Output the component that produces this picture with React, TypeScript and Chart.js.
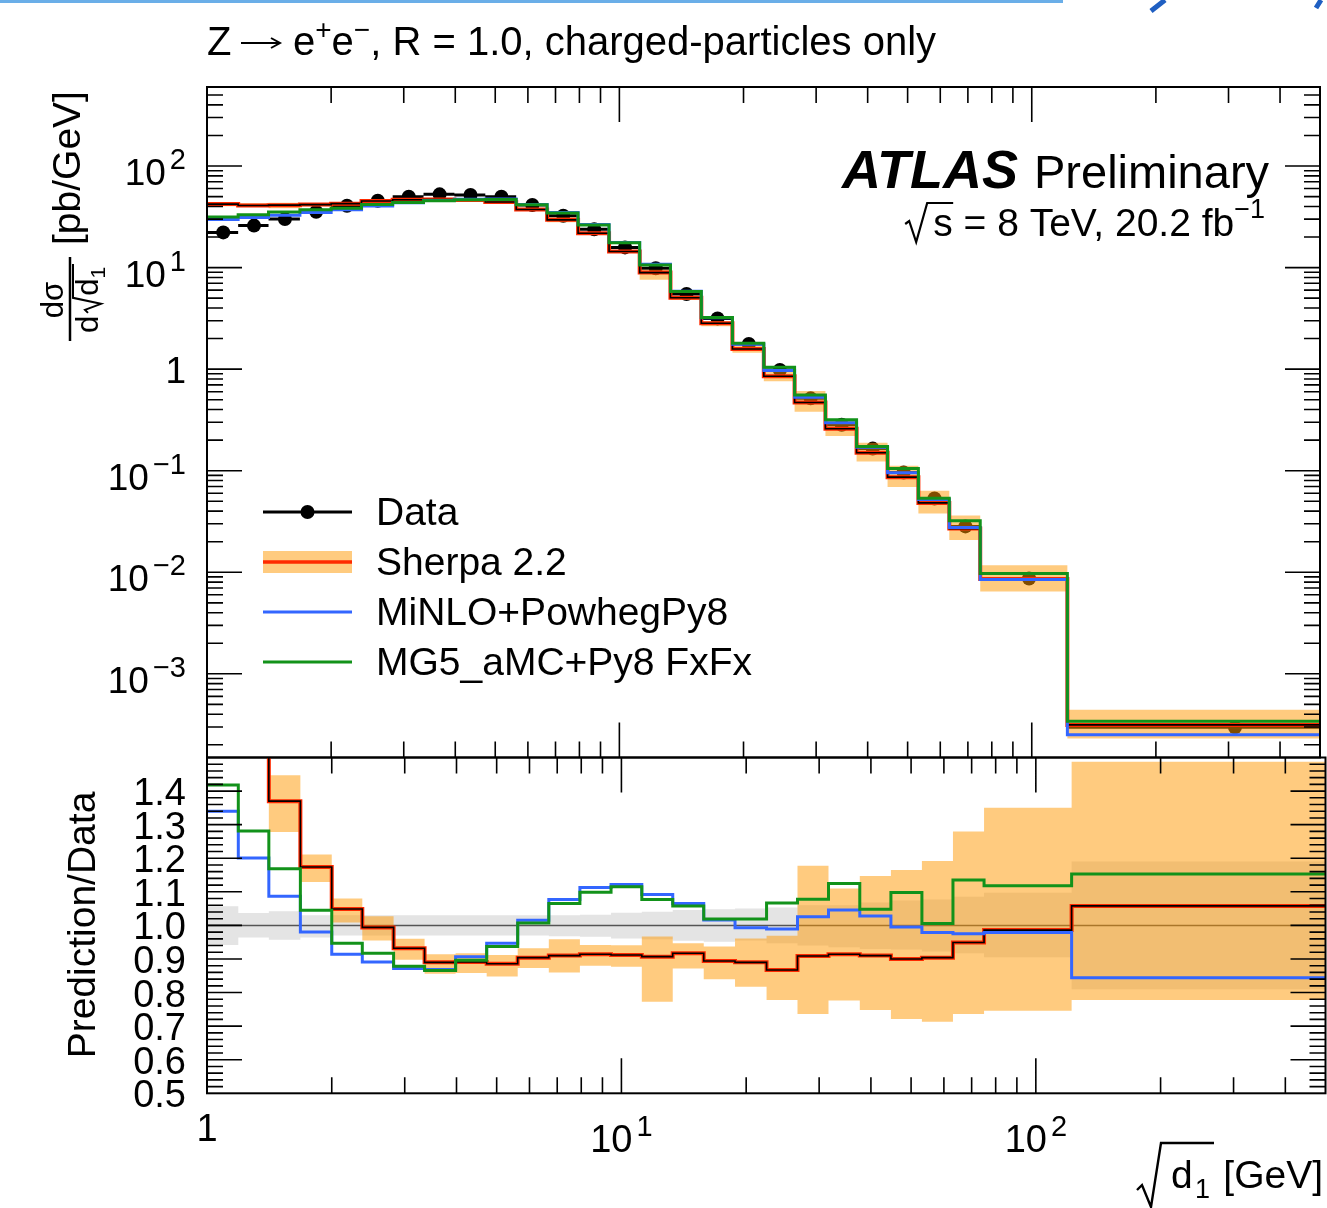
import React, { useEffect, useRef } from "react";
import { Chart, registerables } from "chart.js";

Chart.register(...registerables);

const W = 1327;
const H = 1208;
const FONT = '"Liberation Sans", Arial, Helvetica, sans-serif';

// ---- data ----
const binEdges = [1, 1.19, 1.41, 1.68, 2.0, 2.37, 2.82, 3.35, 3.98, 4.73, 5.62, 6.68, 7.94, 9.44, 11.2, 13.3, 15.8, 18.8, 22.4, 26.6, 31.6, 37.6, 44.7, 53.1, 63.1, 75.0, 122, 500];

const dataValues = [22.2, 25.9, 30.1, 35.5, 40.6, 45.5, 49.9, 52.6, 51.9, 49.9, 41.3, 32.4, 23.8, 15.8, 9.85, 5.5, 3.16, 1.77, 0.98, 0.516, 0.283, 0.165, 0.096, 0.0533, 0.0283, 0.00869, 0.000297];
const sherpaValues = [42.2, 40.9, 41.2, 41.7, 42.6, 45.2, 46.5, 46.8, 46.2, 44.2, 37.3, 29.5, 21.8, 14.4, 8.93, 5.04, 2.83, 1.58, 0.85, 0.469, 0.259, 0.15, 0.0864, 0.0482, 0.0269, 0.00857, 0.000314];
const sherpaBandHigh = [44.2, 43.0, 43.6, 43.0, 43.8, 46.7, 47.9, 48.1, 47.6, 45.5, 38.5, 31.1, 22.4, 14.9, 9.52, 5.21, 2.96, 1.7, 0.95, 0.608, 0.314, 0.189, 0.112, 0.0635, 0.0362, 0.01173, 0.000442];
const sherpaBandLow = [40.2, 39.4, 38.5, 40.1, 41.0, 43.5, 44.8, 45.0, 44.5, 42.3, 36.1, 27.9, 20.9, 13.9, 7.61, 4.8, 2.65, 1.45, 0.762, 0.38, 0.22, 0.123, 0.0692, 0.038, 0.0208, 0.00648, 0.000231];
const minloValues = [29.7, 31.1, 32.7, 34.8, 37.1, 40.5, 43.5, 45.7, 47.1, 47.3, 41.9, 34.9, 26.5, 17.7, 10.76, 5.86, 3.21, 1.76, 0.969, 0.529, 0.296, 0.17, 0.0955, 0.0522, 0.0276, 0.00851, 0.000251];
const mg5Values = [31.5, 33.2, 35.2, 37.1, 38.4, 41.7, 43.8, 45.6, 46.5, 46.8, 41.6, 34.5, 26.2, 17.6, 10.61, 5.82, 3.22, 1.8, 1.046, 0.556, 0.318, 0.173, 0.1054, 0.0536, 0.0321, 0.00972, 0.000342];

const ratioData = [1, 1, 1, 1, 1, 1, 1, 1, 1, 1, 1, 1, 1, 1, 1, 1, 1, 1, 1, 1, 1, 1, 1, 1, 1, 1, 1];
const ratioDataHigh = [1.057, 1.037, 1.042, 1.03, 1.03, 1.03, 1.03, 1.03, 1.03, 1.03, 1.03, 1.03, 1.032, 1.038, 1.041, 1.046, 1.048, 1.05, 1.053, 1.06, 1.06, 1.068, 1.074, 1.077, 1.085, 1.097, 1.19];
const ratioDataLow = [0.942, 0.964, 0.957, 0.964, 0.97, 0.97, 0.97, 0.97, 0.97, 0.97, 0.97, 0.968, 0.966, 0.961, 0.959, 0.954, 0.951, 0.955, 0.947, 0.94, 0.935, 0.93, 0.928, 0.922, 0.917, 0.905, 0.81];
const ratioSherpa = [1.9, 1.58, 1.37, 1.174, 1.049, 0.994, 0.932, 0.89, 0.891, 0.886, 0.904, 0.91, 0.914, 0.912, 0.907, 0.917, 0.894, 0.89, 0.867, 0.909, 0.914, 0.91, 0.9, 0.904, 0.949, 0.986, 1.058];
const ratioSherpaHigh = [1.99, 1.66, 1.447, 1.211, 1.08, 1.027, 0.96, 0.914, 0.917, 0.912, 0.932, 0.959, 0.942, 0.941, 0.967, 0.947, 0.937, 0.961, 0.969, 1.178, 1.11, 1.147, 1.165, 1.192, 1.28, 1.35, 1.487];
const ratioSherpaLow = [1.81, 1.52, 1.278, 1.129, 1.009, 0.955, 0.898, 0.856, 0.858, 0.848, 0.873, 0.86, 0.88, 0.877, 0.773, 0.872, 0.84, 0.817, 0.778, 0.736, 0.776, 0.748, 0.721, 0.713, 0.736, 0.746, 0.778];
const ratioMinlo = [1.34, 1.201, 1.087, 0.98, 0.914, 0.891, 0.872, 0.869, 0.907, 0.947, 1.015, 1.077, 1.113, 1.122, 1.092, 1.065, 1.016, 0.993, 0.989, 1.026, 1.046, 1.028, 0.995, 0.979, 0.975, 0.979, 0.844];
const ratioMg5 = [1.418, 1.281, 1.169, 1.045, 0.947, 0.917, 0.878, 0.866, 0.896, 0.937, 1.007, 1.065, 1.099, 1.115, 1.077, 1.058, 1.019, 1.019, 1.067, 1.078, 1.125, 1.048, 1.098, 1.006, 1.135, 1.118, 1.153];

// ---- ticks / labels ----
const xMajorTicks = [1, 10, 100];
const xMinorTicks = [2, 3, 4, 5, 6, 7, 8, 9, 20, 30, 40, 50, 60, 70, 80, 90, 200, 300, 400, 500];
const xTickValues = [1, 10, 100];
const xTickBases = ["1", "10", "10"];
const xTickExps = ["", "1", "2"];
const yTopMajorTicks = [0.001, 0.01, 0.1, 1, 10, 100];
const yTopTickBases = ["10", "10", "10", "1", "10", "10"];
const yTopTickExps = ["\u22123", "\u22122", "\u22121", "", "1", "2"];
const ratioTickValues = [0.5, 0.6, 0.7, 0.8, 0.9, 1.0, 1.1, 1.2, 1.3, 1.4];
const ratioTickLabels = ["0.5", "0.6", "0.7", "0.8", "0.9", "1.0", "1.1", "1.2", "1.3", "1.4"];
const legendLabels = ["Data", "Sherpa 2.2", "MiNLO+PowhegPy8", "MG5_aMC+Py8 FxFx"];

const TOP_Y_MIN = 1.5e-4;
const TOP_Y_MAX = 600;
const X_MIN = 1;
const X_MAX = 500;

const C_ORANGE = "rgba(255,152,0,0.5)";
const C_RED = "#ff2a00";
const C_BLUE = "#3366ff";
const C_GREEN = "#12921a";
const C_GREY = "#e4e4e4";

const fnt = (px: number, weight = "normal", style = "normal") => `${style} ${weight} ${px}px ${FONT}`;

function step(vals: number[]) {
  const pts = vals.map((v, i) => ({ x: binEdges[i], y: v }));
  pts.push({ x: binEdges[binEdges.length - 1], y: vals[vals.length - 1] });
  return pts;
}

function lineDs(label: string, vals: number[], color: string, width: number, order: number, extra: any = {}) {
  return {
    label,
    data: step(vals),
    borderColor: color,
    backgroundColor: color,
    borderWidth: width,
    pointRadius: 0,
    pointHoverRadius: 0,
    stepped: true,
    tension: 0,
    fill: false,
    order,
    borderJoinStyle: "miter",
    borderCapStyle: "butt",
    ...extra,
  };
}

function bandDs(low: number[], high: number[], color: string, order: number) {
  return [
    lineDs("low", low, "rgba(0,0,0,0)", 0.001, order),
    lineDs("high", high, "rgba(0,0,0,0)", 0.001, order, { fill: "-1", backgroundColor: color }),
  ];
}

function drawAxes(chart: any, yMajor: number[], yMinor: number[]) {
  const { ctx, chartArea: a } = chart;
  const xs = chart.scales.x;
  const ys = chart.scales.y;
  ctx.save();
  ctx.strokeStyle = "#000";
  ctx.lineWidth = 1.6;
  ctx.beginPath();
  const addX = (v: number, len: number) => {
    const p = xs.getPixelForValue(v);
    if (p <= a.left + 1 || p >= a.right - 1) return;
    ctx.moveTo(p, a.bottom);
    ctx.lineTo(p, a.bottom - len);
    ctx.moveTo(p, a.top);
    ctx.lineTo(p, a.top + len);
  };
  xMajorTicks.forEach((v) => addX(v, 35));
  xMinorTicks.forEach((v) => addX(v, 16));
  const addY = (v: number, len: number) => {
    const p = ys.getPixelForValue(v);
    if (p <= a.top + 1 || p >= a.bottom - 1) return;
    ctx.moveTo(a.left, p);
    ctx.lineTo(a.left + len, p);
    ctx.moveTo(a.right, p);
    ctx.lineTo(a.right - len, p);
  };
  yMajor.forEach((v) => addY(v, 35));
  yMinor.forEach((v) => addY(v, 16));
  ctx.stroke();
  ctx.lineWidth = 2;
  ctx.strokeRect(a.left, a.top, a.right - a.left, a.bottom - a.top);
  ctx.restore();
}

function powLabel(ctx: any, base: string, exp: string, x: number, y: number, align: string, bs: number, es: number, rise: number, baseDrop: number) {
  ctx.textAlign = "left";
  ctx.textBaseline = "alphabetic";
  ctx.font = fnt(bs);
  const wb = ctx.measureText(base).width;
  let we = 0;
  if (exp) {
    ctx.font = fnt(es);
    we = ctx.measureText(exp).width;
  }
  const gap = exp ? 4 : 0;
  const total = wb + gap + we;
  const x0 = align === "right" ? x - total : x - total / 2;
  ctx.font = fnt(bs);
  ctx.fillText(base, x0, y + (exp ? baseDrop : 0));
  if (exp) {
    ctx.font = fnt(es);
    ctx.fillText(exp, x0 + wb + gap, y + baseDrop - rise);
  }
}

type Piece = { t: string; s: number; dy: number; w?: string; st?: string };

function drawRich(ctx: any, pieces: Piece[], x: number, y: number) {
  let cx = x;
  ctx.textAlign = "left";
  ctx.textBaseline = "alphabetic";
  for (const p of pieces) {
    ctx.font = fnt(p.s, p.w || "normal", p.st || "normal");
    ctx.fillText(p.t, cx, y + p.dy);
    cx += ctx.measureText(p.t).width;
  }
  return cx;
}

function richWidth(ctx: any, pieces: Piece[]) {
  let w = 0;
  for (const p of pieces) {
    ctx.font = fnt(p.s, p.w || "normal", p.st || "normal");
    w += ctx.measureText(p.t).width;
  }
  return w;
}

const topPlugin = {
  id: "topDecor",
  afterDraw(chart: any) {
    const ctx = chart.ctx;
    const ys = chart.scales.y;
    const yMinor: number[] = [];
    for (let e = -4; e <= 2; e++) {
      for (let m = 2; m <= 9; m++) {
        const v = m * Math.pow(10, e);
        if (v > TOP_Y_MIN && v < TOP_Y_MAX) yMinor.push(v);
      }
    }
    drawAxes(chart, yTopMajorTicks, yMinor);

    ctx.save();
    ctx.fillStyle = "#000";
    // y tick labels
    yTopMajorTicks.forEach((v, i) => {
      const p = ys.getPixelForValue(v);
      if (yTopTickExps[i]) powLabel(ctx, yTopTickBases[i], yTopTickExps[i], 186, p, "right", 37, 29, 16, 19);
      else powLabel(ctx, yTopTickBases[i], "", 186, p + 14, "right", 37, 29, 0, 0);
    });

    // header line (slide decoration)
    ctx.strokeStyle = "#6aaee8";
    ctx.lineWidth = 3;
    ctx.beginPath();
    ctx.moveTo(0, 1.5);
    ctx.lineTo(1063, 1.5);
    ctx.stroke();
    ctx.strokeStyle = "#1f5fc2";
    ctx.lineWidth = 5;
    ctx.beginPath();
    ctx.moveTo(1165, 0);
    ctx.lineTo(1151, 11);
    ctx.moveTo(1321, 0);
    ctx.lineTo(1316, 8);
    ctx.stroke();

    // title
    ctx.font = fnt(40);
    ctx.textAlign = "left";
    ctx.fillText("Z", 207, 55);
    // arrow symbol
    ctx.strokeStyle = "#000";
    ctx.lineWidth = 2;
    ctx.beginPath();
    ctx.moveTo(241, 43);
    ctx.lineTo(279, 43);
    ctx.moveTo(271, 38);
    ctx.lineTo(280, 43);
    ctx.lineTo(271, 48);
    ctx.stroke();
    drawRich(
      ctx,
      [
        { t: "e", s: 40, dy: 0 },
        { t: "+", s: 28, dy: -16 },
        { t: "e", s: 40, dy: 0 },
        { t: "\u2212", s: 28, dy: -16 },
        { t: ", R = 1.0, charged-particles only", s: 40, dy: 0 },
      ],
      293,
      55
    );

    // ATLAS label
    ctx.font = fnt(54, "bold", "italic");
    ctx.textAlign = "left";
    ctx.fillText("ATLAS", 842, 188);
    ctx.font = fnt(47);
    ctx.fillText("Preliminary", 1034, 188);
    const sPieces: Piece[] = [
      { t: "s = 8 TeV, 20.2 fb", s: 39, dy: 0 },
      { t: "\u22121", s: 27, dy: -18 },
    ];
    const sw = richWidth(ctx, sPieces);
    const sx = 1265 - sw;
    const sb = 236;
    drawRich(ctx, sPieces, sx, sb);
    ctx.strokeStyle = "#000";
    ctx.lineWidth = 2.2;
    ctx.beginPath();
    ctx.moveTo(sx - 28, sb - 12);
    ctx.lineTo(sx - 24, sb - 15);
    ctx.lineTo(sx - 17, sb + 6);
    ctx.lineTo(sx - 6, sb - 33);
    ctx.lineTo(sx + 20, sb - 33);
    ctx.stroke();

    // legend
    const lx0 = 263, lx1 = 352, tx = 376;
    const ly = [512, 562, 612, 662];
    ctx.strokeStyle = "#000";
    ctx.lineWidth = 3;
    ctx.beginPath();
    ctx.moveTo(lx0, ly[0]);
    ctx.lineTo(lx1, ly[0]);
    ctx.stroke();
    ctx.beginPath();
    ctx.arc((lx0 + lx1) / 2, ly[0], 7, 0, Math.PI * 2);
    ctx.fill();
    ctx.fillStyle = C_ORANGE;
    ctx.fillRect(lx0, ly[1] - 11, lx1 - lx0, 22);
    ctx.strokeStyle = C_RED;
    ctx.lineWidth = 3.5;
    ctx.beginPath();
    ctx.moveTo(lx0, ly[1]);
    ctx.lineTo(lx1, ly[1]);
    ctx.stroke();
    ctx.strokeStyle = C_BLUE;
    ctx.lineWidth = 3;
    ctx.beginPath();
    ctx.moveTo(lx0, ly[2]);
    ctx.lineTo(lx1, ly[2]);
    ctx.stroke();
    ctx.strokeStyle = C_GREEN;
    ctx.beginPath();
    ctx.moveTo(lx0, ly[3]);
    ctx.lineTo(lx1, ly[3]);
    ctx.stroke();
    ctx.fillStyle = "#000";
    ctx.font = fnt(39);
    legendLabels.forEach((l, i) => ctx.fillText(l, tx, ly[i] + 13));

    // y title (rotated)
    ctx.save();
    ctx.rotate(-Math.PI / 2);
    ctx.textAlign = "left";
    ctx.font = fnt(39);
    ctx.fillText("[pb/GeV]", -245, 80);
    // fraction
    ctx.font = fnt(31);
    ctx.textAlign = "center";
    ctx.fillText("d\u03c3", -300, 63);
    ctx.strokeStyle = "#000";
    ctx.lineWidth = 2.5;
    ctx.beginPath();
    ctx.moveTo(-341, 70);
    ctx.lineTo(-257, 70);
    ctx.stroke();
    ctx.textAlign = "left";
    ctx.font = fnt(31);
    const wd = ctx.measureText("d").width;
    ctx.font = fnt(21);
    const w1 = ctx.measureText("1").width;
    const radW = 17;
    const totalDen = wd + 3 + radW + wd + w1 + 2;
    let u = -299 - totalDen / 2;
    const vb = 98;
    ctx.font = fnt(31);
    ctx.fillText("d", u, vb);
    u += wd + 3;
    ctx.lineWidth = 2;
    ctx.beginPath();
    ctx.moveTo(u, vb - 10);
    ctx.lineTo(u + 3, vb - 13);
    ctx.lineTo(u + 9, vb + 3);
    ctx.lineTo(u + 15, vb - 25);
    ctx.lineTo(u + radW + wd + w1 + 3, vb - 25);
    ctx.stroke();
    u += radW;
    ctx.fillText("d", u, vb);
    u += wd;
    ctx.font = fnt(21);
    ctx.fillText("1", u, vb + 7);
    ctx.restore();

    ctx.restore();
  },
};

const bottomPlugin = {
  id: "bottomDecor",
  afterDraw(chart: any) {
    const ctx = chart.ctx;
    const xs = chart.scales.x;
    const ys = chart.scales.y;
    const yMajor: number[] = [];
    const yMinor: number[] = [];
    for (let i = 0; i <= 50; i++) {
      const v = Math.round((0.5 + i * 0.02) * 1000) / 1000;
      if (i % 5 === 0) yMajor.push(v);
      else yMinor.push(v);
    }
    drawAxes(chart, yMajor, yMinor);

    ctx.save();
    ctx.fillStyle = "#000";
    ctx.font = fnt(38);
    ctx.textAlign = "right";
    ctx.textBaseline = "alphabetic";
    ratioTickValues.forEach((v, i) => {
      const p = ys.getPixelForValue(v);
      ctx.fillText(ratioTickLabels[i], 186, p + 14);
    });

    // x tick labels
    xTickValues.forEach((v, i) => {
      const p = xs.getPixelForValue(v);
      if (xTickExps[i]) powLabel(ctx, xTickBases[i], xTickExps[i], p, 1152, "center", 38, 29, 16, 0);
      else powLabel(ctx, xTickBases[i], "", p, 1141, "center", 38, 29, 0, 0);
    });

    // x title
    ctx.font = fnt(39);
    ctx.textAlign = "right";
    ctx.fillText("[GeV]", 1323, 1188);
    ctx.textAlign = "left";
    ctx.fillText("d", 1171, 1188);
    ctx.font = fnt(27);
    ctx.fillText("1", 1195, 1198);
    ctx.strokeStyle = "#000";
    ctx.lineWidth = 2.4;
    ctx.beginPath();
    ctx.moveTo(1137, 1190);
    ctx.lineTo(1142, 1185);
    ctx.lineTo(1151, 1207);
    ctx.lineTo(1161, 1143);
    ctx.lineTo(1214, 1143);
    ctx.stroke();

    // y title
    ctx.save();
    ctx.rotate(-Math.PI / 2);
    ctx.font = fnt(39);
    ctx.textAlign = "center";
    ctx.fillText("Prediction/Data", -925, 95);
    ctx.restore();

    ctx.restore();
  },
};

function baseOptions(padding: any, yScale: any) {
  return {
    responsive: false,
    maintainAspectRatio: false,
    animation: false,
    devicePixelRatio: 1,
    events: [],
    layout: { padding },
    scales: {
      x: { type: "logarithmic", min: X_MIN, max: X_MAX, display: false },
      y: { display: false, ...yScale },
    },
    plugins: {
      legend: { display: false },
      tooltip: { enabled: false },
    },
  };
}

function topConfig(): any {
  const dataBars: any[] = [];
  dataValues.forEach((v, i) => {
    dataBars.push({ x: binEdges[i], y: v }, { x: binEdges[i + 1], y: v }, { x: binEdges[i + 1], y: null });
  });
  const dataDots = dataValues.map((v, i) => ({ x: (binEdges[i] + binEdges[i + 1]) / 2, y: v }));
  return {
    type: "line",
    data: {
      datasets: [
        {
          label: "Data bars",
          data: dataBars,
          borderColor: "#000",
          borderWidth: 3,
          pointRadius: 0,
          pointHoverRadius: 0,
          fill: false,
          spanGaps: false,
          order: 30,
        },
        {
          label: "Data",
          data: dataDots,
          showLine: false,
          pointRadius: 7,
          pointHoverRadius: 7,
          pointBorderWidth: 0,
          pointBackgroundColor: "#000",
          borderColor: "#000",
          fill: false,
          order: 29,
        },
        ...bandDs(sherpaBandLow, sherpaBandHigh, C_ORANGE, 20),
        lineDs("Sherpa 2.2", sherpaValues, C_RED, 4, 12),
        lineDs("Sherpa core", sherpaValues, "#000", 1.6, 11),
        lineDs("MiNLO+PowhegPy8", minloValues, C_BLUE, 3, 10),
        lineDs("MG5_aMC+Py8 FxFx", mg5Values, C_GREEN, 3, 9),
      ],
    },
    options: baseOptions({ left: 207, top: 87, right: 1.5, bottom: H - 757.5 }, { type: "logarithmic", min: TOP_Y_MIN, max: TOP_Y_MAX }),
    plugins: [topPlugin],
  };
}

function bottomConfig(): any {
  return {
    type: "line",
    data: {
      datasets: [
        ...bandDs(ratioDataLow, ratioDataHigh, C_GREY, 40),
        lineDs("Data", ratioData, "#555", 1.5, 35),
        ...bandDs(ratioSherpaLow, ratioSherpaHigh, C_ORANGE, 30),
        lineDs("Sherpa 2.2", ratioSherpa, C_RED, 4, 12),
        lineDs("Sherpa core", ratioSherpa, "#000", 1.6, 11),
        lineDs("MiNLO+PowhegPy8", ratioMinlo, C_BLUE, 3, 10),
        lineDs("MG5_aMC+Py8 FxFx", ratioMg5, C_GREEN, 3, 9),
      ],
    },
    options: baseOptions({ left: 207, top: 757.5, right: 1.5, bottom: H - 1093.3 }, { type: "linear", min: 0.5, max: 1.5 }),
    plugins: [bottomPlugin],
  };
}

export default function App() {
  const topRef = useRef<HTMLCanvasElement>(null);
  const botRef = useRef<HTMLCanvasElement>(null);
  useEffect(() => {
    const c1 = new Chart(topRef.current as HTMLCanvasElement, topConfig());
    const c2 = new Chart(botRef.current as HTMLCanvasElement, bottomConfig());
    return () => {
      c1.destroy();
      c2.destroy();
    };
  }, []);
  const cs: any = { position: "absolute", left: 0, top: 0, width: W, height: H };
  return (
    <div style={{ position: "absolute", left: 0, top: 0, width: W, height: H, background: "#fff", overflow: "hidden" }}>
      <canvas ref={topRef} width={W} height={H} style={cs} />
      <canvas ref={botRef} width={W} height={H} style={cs} />
    </div>
  );
}
